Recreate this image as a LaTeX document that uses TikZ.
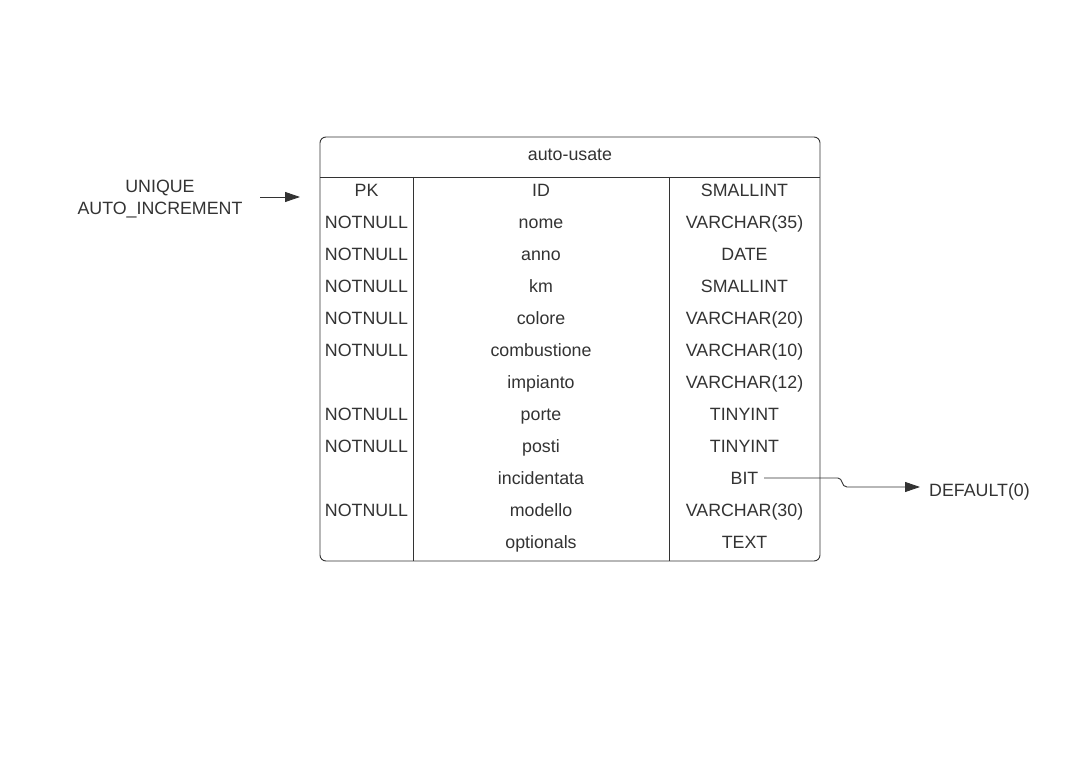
\documentclass[tikz,border=0pt]{standalone}
\usepackage{fontspec}
\setmainfont{Liberation Sans}
\usetikzlibrary{arrows.meta}
\definecolor{ink}{HTML}{333333}
\begin{document}
\begin{tikzpicture}[x=1pt,y=-1pt,
  txt/.style={text=ink,font=\fontsize{17.8}{21}\selectfont,inner sep=0pt,anchor=base},
  ln/.style={draw=ink,line width=0.9pt},
  arr/.style={ln,-{Triangle[length=15pt,width=10pt]}}]
\useasboundingbox (0,0) rectangle (1090,775);
\fill[white] (0,0) rectangle (1090,775);
% table
\draw[ln,rounded corners=6pt] (320,137) rectangle (820,561);
\draw[ln] (320,177) -- (820,177);
\draw[ln] (413,177) -- (413,561);
\draw[ln] (669,177) -- (669,561);
\node[txt] (title) at (570,161) {auto-usate};
\foreach \i/\a/\b/\c in {0/PK/ID/SMALLINT,1/NOTNULL/nome/VARCHAR(35),2/NOTNULL/anno/DATE,3/NOTNULL/km/SMALLINT,4/NOTNULL/colore/VARCHAR(20),5/NOTNULL/combustione/VARCHAR(10),6//impianto/VARCHAR(12),7/NOTNULL/porte/TINYINT,8/NOTNULL/posti/TINYINT,9//incidentata/BIT,10/NOTNULL/modello/VARCHAR(30),11//optionals/TEXT}{
  \node[txt] (a\i) at (366.5,196.5+32*\i) {\a};
  \node[txt] (b\i) at (541,196.5+32*\i) {\b};
  \node[txt] (c\i) at (744.5,196.5+32*\i) {\c};
}
% left annotation
\node[txt] (uniq1) at (160,192.5) {UNIQUE};
\node[txt] (uniq2) at (160,214.5) {AUTO\_INCREMENT};
\coordinate (ls) at (260,197);
\coordinate (le) at (300,197);
\draw[arr] (ls) -- (le);
% right annotation
\node[txt,anchor=base west] (def) at (929,496.5) {DEFAULT(0)};
\coordinate (bs) at (764,478);
\coordinate (be) at (920,487);
\draw[arr] (bs) -- (838,478) .. controls (843,478) and (841,487) .. (847,487) -- (be);
\end{tikzpicture}
\end{document}
